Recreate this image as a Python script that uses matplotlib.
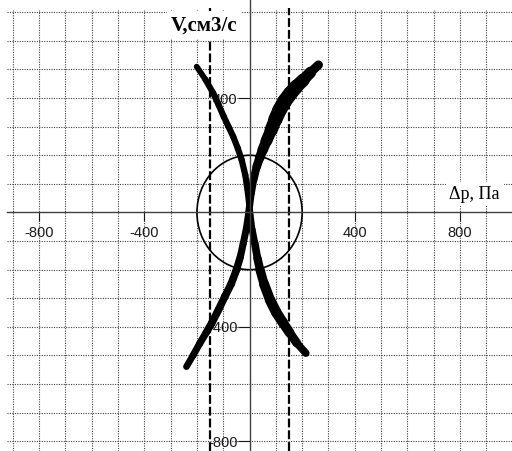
import numpy as np
import matplotlib.pyplot as plt
from matplotlib.patches import Circle
from matplotlib.collections import LineCollection

plt.rcParams['font.family'] = ['Liberation Sans', 'DejaVu Sans']
plt.rcParams['axes.unicode_minus'] = False

# curve 1 ("\" shape): pressure drop dp [Pa] vs flow V [cm3/s]
v_a = [510, 465, 417, 375, 335, 300, 265, 225, 184, 130, 67, 0, -60, -108,
       -160, -201, -250, -306, -350, -387, -420, -457, -492]
dp_a = [-201, -168, -138, -117, -98, -80, -62, -45, -30, -16, -6, 2, 10, 20,
        30, 40, 55, 78, 102, 128, 152, 180, 214]

# curve 2 ("/" shape)
v_b = [516, 490, 463, 440, 417, 390, 358, 325, 288, 250, 219, 190, 160, 115, 67,
       0, -55, -108, -155, -201, -250, -294, -340, -387, -420, -457, -500, -539]
dp_b = [262, 232, 204, 178, 156, 134, 114, 98, 82, 64, 50, 38, 27, 15, 6,
        -3, -12, -24, -35, -50, -70, -94, -118, -144, -165, -189, -215, -240]

circle_r = 200
dp_limits = [-150, 150]

xticks = [-800, -400, 400, 800]
yticks = [-800, -400, 400]
grid_x = [v for v in range(-900, 901, 100) if v != 0]
grid_y = [v for v in range(-800, 701, 100) if v != 0]

# stroke width (pt) along each curve, point by point
w_a = [4.0, 4.3, 4.5, 4.5, 4.5, 4.5, 4.5, 4.5, 4.5, 4.5, 4.5, 4.5, 4.8, 5.2,
       5.8, 6.4, 7.0, 7.5, 7.6, 7.3, 6.8, 6.0, 4.8]
w_b = [5.5, 7.5, 9.0, 10.0, 10.5, 10.5, 10.5, 10.0, 9.0, 8.0, 7.2, 6.5, 6.0, 5.5, 5.2,
       5.0, 5.0, 5.0, 5.2, 5.5, 5.5, 5.5, 5.5, 5.5, 5.3, 5.0, 5.0, 4.6]

fig = plt.figure(figsize=(5.12, 4.51), dpi=100)
ax = fig.add_axes([0, 0, 1, 1])
ax.set_xlim(-949, 998)
ax.set_ylim(-834, 743)

# dotted grid
ax.vlines(grid_x, -834, 709, colors='0.25', linestyles=(0, (1, 1.2)), lw=0.8, zorder=1)
ax.hlines(grid_y, -921, 998, colors='0.25', linestyles=(0, (1, 1.2)), lw=0.8, zorder=1)

# axes through the origin
for side in ['top', 'right']:
    ax.spines[side].set_visible(False)
ax.spines['left'].set_position(('data', 0))
ax.spines['bottom'].set_position(('data', 0))
ax.spines['bottom'].set_bounds(-921, 998)
for side in ['left', 'bottom']:
    ax.spines[side].set_color('0.25')
    ax.spines[side].set_linewidth(1.0)
    ax.spines[side].set_zorder(5)

ax.set_xticks(xticks)
ax.set_yticks(yticks)
ax.tick_params(axis='x', direction='out', length=6.8, width=0.8, pad=3, labelsize=10.5, colors='0.1')
ax.tick_params(axis='y', direction='out', length=8.4, width=0.8, pad=0.3, labelsize=10.5, colors='0.1')

# limit lines
ax.vlines(dp_limits, -834, 715, colors='k', linestyles=(0, (4, 1.3)), lw=1.6, zorder=2)

# circle
ax.add_patch(Circle((0, 0), circle_r, fill=False, ec='k', lw=1.2, zorder=3))


def thick_curve(dp, v, widths):
    pts = np.column_stack([dp, v])
    segs = np.stack([pts[:-1], pts[1:]], axis=1)
    seg_w = [(widths[i] + widths[i + 1]) / 2 for i in range(len(segs))]
    lc = LineCollection(segs, linewidths=seg_w, colors='k', capstyle='round',
                        joinstyle='round', zorder=4)
    ax.add_collection(lc)


thick_curve(dp_a, v_a, w_a)
thick_curve(dp_b, v_b, w_b)

# axis titles
ax.text(-45, 655, 'V,см3/с', ha='right', va='center', fontsize=15, fontweight='bold',
        family=['Liberation Serif', 'DejaVu Serif'], zorder=6,
        bbox=dict(boxstyle='square,pad=0.2', fc='white', ec='none'))
ax.text(760, 64, 'Δp, Па', ha='left', va='center', fontsize=13,
        family=['Liberation Serif', 'DejaVu Serif'], zorder=6,
        bbox=dict(boxstyle='square,pad=0.2', fc='white', ec='none'))

fig.savefig('out.png', dpi=100)
